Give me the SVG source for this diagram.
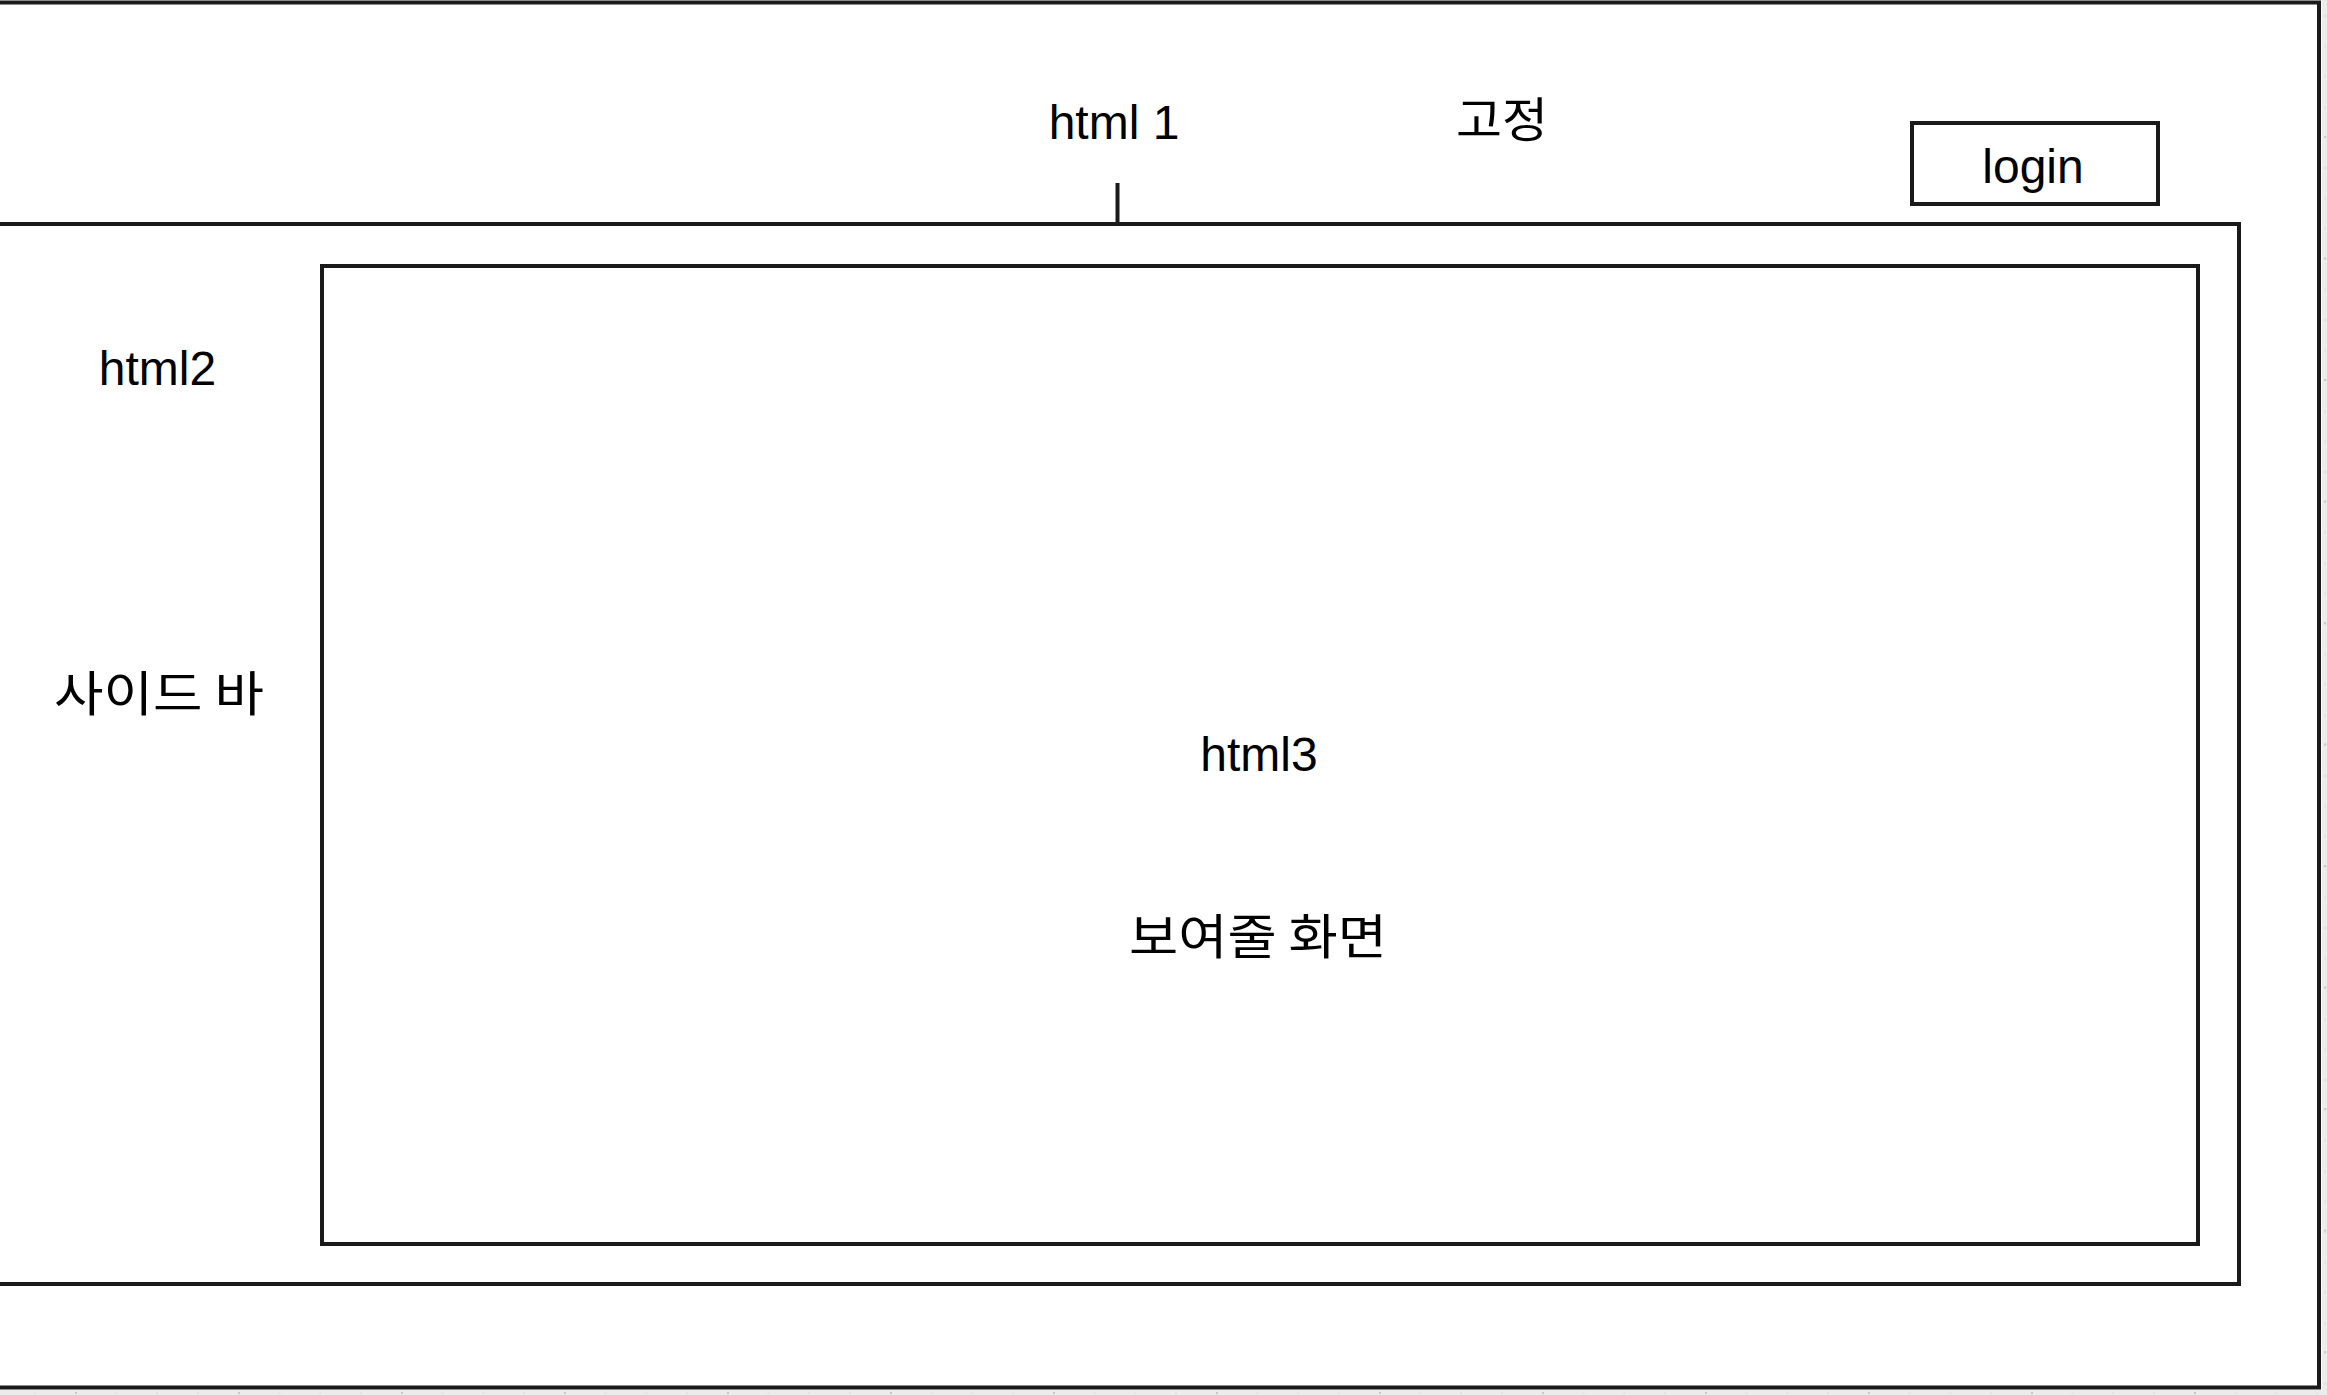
<svg xmlns="http://www.w3.org/2000/svg" width="2327" height="1395" viewBox="0 0 2327 1395">
  <style>
    .box { fill: none; stroke: #1a1a1a; stroke-width: 4; }
    .lbl { font-family: "Liberation Sans", "Noto Sans CJK KR", sans-serif; font-size: 48px; fill: #000; text-anchor: middle; }
    .ko { font-family: "Noto Sans CJK KR", "Liberation Sans", sans-serif; font-size: 48px; fill: #000; text-anchor: middle; }
    .ruler { fill: #ececec; }
    .tickM { stroke: #c8c8c8; stroke-width: 2; }
    .tickm { stroke: #e2e2e2; stroke-width: 2; }
  </style>
  <rect width="2327" height="1395" fill="#fff"/>
  <g id="ruler">
    <rect class="ruler" x="0" y="1390" width="2327" height="5"/>
    <rect class="ruler" x="2322" y="0" width="5" height="1395"/>
    <line class="tickm" x1="34" y1="1393" x2="2327" y2="1393" stroke-dasharray="2 38.75"/>
    <line class="tickM" x1="75" y1="1393" x2="2327" y2="1393" stroke-dasharray="2 161"/>
    <line class="tickm" x1="2325" y1="15" x2="2325" y2="1390" stroke-dasharray="2 28.4"/>
    <line class="tickM" x1="2325" y1="136" x2="2325" y2="1390" stroke-dasharray="2 119.5"/>
  </g>
  <g id="frame">
    <rect class="box" x="-10" y="2.5" width="2329" height="1385"/>
    <text class="lbl" x="1114" y="139">html 1</text>
    <text class="ko" x="1502" y="137" textLength="92" lengthAdjust="spacingAndGlyphs">고정</text>
  </g>
  <g id="login">
    <rect class="box" x="1912" y="123" width="246" height="81"/>
    <text class="lbl" x="2033" y="183">login</text>
  </g>
  <g id="sidebar">
    <rect class="box" x="-10" y="224" width="2249" height="1060"/>
    <text class="lbl" x="157.5" y="385">html2</text>
    <text class="ko" x="159" y="711" textLength="210" lengthAdjust="spacingAndGlyphs">사이드 바</text>
  </g>
  <g id="content">
    <rect class="box" x="322" y="266" width="1876" height="978"/>
    <text class="lbl" x="1259" y="771">html3</text>
    <text class="ko" x="1258" y="954" textLength="258" lengthAdjust="spacingAndGlyphs">보여줄 화면</text>
  </g>
  <g id="connectors">
    <line x1="1117.5" y1="183" x2="1117.5" y2="224" stroke="#1a1a1a" stroke-width="4"/>
  </g>
</svg>
